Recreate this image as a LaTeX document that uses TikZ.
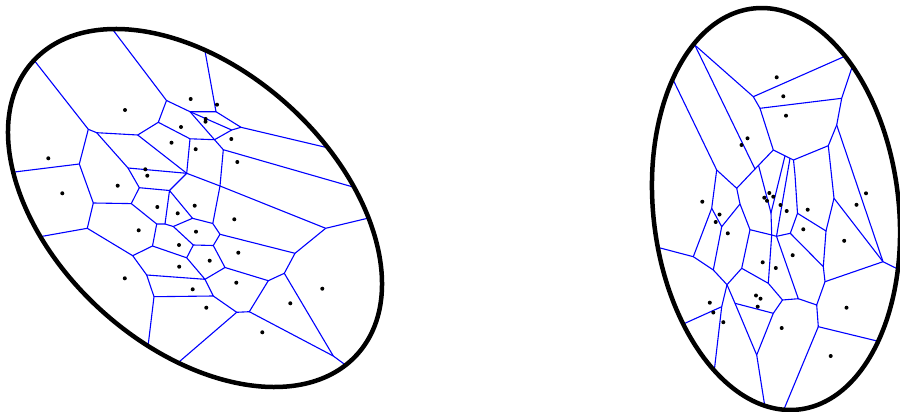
\documentclass[tikz,border=0pt]{standalone}
\usepackage{tikz}
\usepackage{xcolor}
\definecolor{cellc}{HTML}{0000FF}
\tikzset{
  wall/.style={draw=black, line width=4.5pt},
  cellline/.style={draw=cellc, line width=1.1pt, line join=round},
  site/.style={fill=black},
}

\begin{document}
\begin{tikzpicture}[x=1pt,y=-1pt]
\useasboundingbox (0,0) rectangle (900,412);
\clip (0,0) rectangle (900,412);
% left cells
\begin{scope}
\clip[rotate around={-42.05:(195,208)}] (195,208) ellipse [x radius=218.5pt, y radius=138.8pt];
\draw[cellline] (110,26) -- (166.5,100.5) -- (190,111.7) -- (216,111.7) -- (203,40);
\draw[cellline] (30,55) -- (88.3,129.3) -- (96.7,132.7) -- (137.7,135) -- (158.3,122.3) -- (166.5,100.5);
\draw[cellline] (158.3,122.3) -- (190,138.8) -- (214.5,139.7) -- (223.3,149.7) -- (360,189);
\draw[cellline] (190,111.7) -- (231.7,130) -- (241,127.3) -- (335,149.5);
\draw[cellline] (216,111.7) -- (241,127.3);
\draw[cellline] (190,111.7) -- (214.5,139.7) -- (231.7,130);
\draw[cellline] (223.3,149.7) -- (220,186) -- (325.7,228.3) -- (380,215.3);
\draw[cellline] (137.7,135) -- (186.7,173.3) -- (220,186);
\draw[cellline] (190,138.8) -- (186.7,173.3);
\draw[cellline] (96.7,132.7) -- (128,168) -- (186.7,173.3);
\draw[cellline] (128,168) -- (139.3,187.7) -- (169.5,190.5) -- (186.7,173.3);
\draw[cellline] (88.3,129.3) -- (79.3,164) -- (0,173.8);
\draw[cellline] (79.3,164) -- (93.3,203) -- (131.3,203.6) -- (139.3,187.7);
\draw[cellline] (220,186) -- (212.8,223.5) -- (220,234.3) -- (295,253.3) -- (325.7,228.3);
\draw[cellline] (169.5,190.5) -- (192.5,218.3) -- (212.8,223.5);
\draw[cellline] (192.5,218.3) -- (173.3,226.5) -- (165,224) -- (169.5,190.5);
\draw[cellline] (165,224) -- (156.7,224) -- (131.3,203.6);
\draw[cellline] (220,234.3) -- (213.3,245.5) -- (193.3,245) -- (173.3,226.5);
\draw[cellline] (193.3,245) -- (186.7,257.8) -- (152.5,246) -- (156.7,224);
\draw[cellline] (152.5,246) -- (132.7,255.7) -- (87.3,228.3) -- (93.3,203);
\draw[cellline] (87.3,228.3) -- (30,238.5);
\draw[cellline] (132.7,255.7) -- (146.7,275) -- (205,279.3) -- (186.7,257.8);
\draw[cellline] (146.7,275) -- (154,296.7) -- (213.3,296) -- (205,279.3);
\draw[cellline] (205,279.3) -- (225,267.5) -- (213.3,245.5);
\draw[cellline] (225,267.5) -- (268.3,280.7) -- (284.3,273.3) -- (295,253.3);
\draw[cellline] (213.3,296) -- (236.7,312.3) -- (165,374);
\draw[cellline] (236.7,312.3) -- (249.3,311.7) -- (268.3,280.7);
\draw[cellline] (154,296.7) -- (146,363);
\draw[cellline] (284.3,273.3) -- (333.3,356) -- (355,372);
\draw[cellline] (249.3,311.7) -- (333.3,356);
\end{scope}
\draw[wall, rotate around={-42.05:(195,208)}] (195,208) ellipse [x radius=218.5pt, y radius=138.8pt];
% left sites
\fill[site] (125,110) circle (2pt);
\fill[site] (48.3,158.3) circle (2pt);
\fill[site] (62.3,193.3) circle (2pt);
\fill[site] (117.7,185.7) circle (2pt);
\fill[site] (145.3,169.3) circle (2pt);
\fill[site] (147.3,175.7) circle (2pt);
\fill[site] (157.3,207) circle (2pt);
\fill[site] (177.7,213.3) circle (2pt);
\fill[site] (194.7,205.7) circle (2pt);
\fill[site] (190.7,99) circle (2pt);
\fill[site] (181,127) circle (2pt);
\fill[site] (171.5,142.7) circle (2pt);
\fill[site] (195.7,149.2) circle (2pt);
\fill[site] (217,104.7) circle (2pt);
\fill[site] (205.7,119) circle (2pt);
\fill[site] (205.5,121.7) circle (2pt);
\fill[site] (231.3,139) circle (2pt);
\fill[site] (237.3,162) circle (2pt);
\fill[site] (234.3,219.3) circle (2pt);
\fill[site] (138.7,230.3) circle (2pt);
\fill[site] (196,231.7) circle (2pt);
\fill[site] (179,245) circle (2pt);
\fill[site] (238.3,252.7) circle (2pt);
\fill[site] (209.7,260.7) circle (2pt);
\fill[site] (179.2,266.7) circle (2pt);
\fill[site] (124.8,278.3) circle (2pt);
\fill[site] (236.3,282.7) circle (2pt);
\fill[site] (192.7,289.3) circle (2pt);
\fill[site] (206.3,307.7) circle (2pt);
\fill[site] (322.3,288.7) circle (2pt);
\fill[site] (290.3,303.3) circle (2pt);
\fill[site] (262.3,332.3) circle (2pt);
% right cells
\begin{scope}
\clip[rotate around={6.5:(776,209)}] (776,209) ellipse [x radius=122.7pt, y radius=201.8pt];
\draw[cellline] (680,32) -- (753.3,96.7) -- (860,49.6);
\draw[cellline] (753.3,96.7) -- (760,108.3) -- (841.7,98.3) -- (857,52.5);
\draw[cellline] (841.7,98.3) -- (836.7,125) -- (828.3,145.7) -- (793.5,160) -- (773.3,150) -- (760,108.3);
\draw[cellline] (836.7,125) -- (883,261.7) -- (920,280);
\draw[cellline] (828.3,145.7) -- (834,198.3) -- (883,261.7);
\draw[cellline] (773.3,150) -- (755,169) -- (736.7,188.3) -- (716.7,170) -- (665,63);
\draw[cellline] (755,169) -- (688,31);
\draw[cellline] (716.7,170) -- (711.7,208.3) -- (693.3,256.7) -- (645,244);
\draw[cellline] (736.7,188.3) -- (740,204) -- (721.7,226.7) -- (711.7,208.3);
\draw[cellline] (740,204) -- (750,229.7) -- (771.7,235) -- (776.5,236.3) -- (790.3,233.3) -- (797.5,213.3) -- (795,175) -- (793.5,160);
\draw[cellline] (721.7,226.7) -- (713.3,270) -- (693.3,256.7);
\draw[cellline] (713.3,270) -- (727,284.7) -- (741.7,268.3) -- (750,229.7);
\draw[cellline] (741.7,268.3) -- (768.3,283.3) -- (771.7,235);
\draw[cellline] (768.3,283.3) -- (782.5,300) -- (798.3,298.7) -- (776.5,236.3);
\draw[cellline] (790.3,233.3) -- (823.3,266.7) -- (826,231) -- (797.5,213.3);
\draw[cellline] (826,231) -- (834,198.3);
\draw[cellline] (823.3,266.7) -- (825,281.7) -- (883,261.7);
\draw[cellline] (825,281.7) -- (816.7,305) -- (798.3,298.7);
\draw[cellline] (816.7,305) -- (818.3,326.7) -- (910,349);
\draw[cellline] (818.3,326.7) -- (777,426);
\draw[cellline] (782.5,300) -- (773.3,313.3) -- (756.7,355) -- (767,420);
\draw[cellline] (727,284.7) -- (735,303.3) -- (756.7,355);
\draw[cellline] (735,303.3) -- (773.3,313.3);
\draw[cellline] (727,284.7) -- (721.7,306.7) -- (670,330);
\draw[cellline] (721.7,306.7) -- (712,390);
\draw[cellline] (758.5,165.3) -- (771,213) -- (771.7,235);
\draw[cellline] (785,155.8) -- (771,213);
\draw[cellline] (790,158.3) -- (776.5,236.3);
\end{scope}
\draw[wall, rotate around={6.5:(776,209)}] (776,209) ellipse [x radius=122.7pt, y radius=201.8pt];
% right sites
\fill[site] (776.7,77.3) circle (2pt);
\fill[site] (783.3,96.3) circle (2pt);
\fill[site] (786,115.7) circle (2pt);
\fill[site] (747.5,138.3) circle (2pt);
\fill[site] (741.5,145) circle (2pt);
\fill[site] (702.3,201.7) circle (2pt);
\fill[site] (719.5,214.5) circle (2pt);
\fill[site] (715.7,222) circle (2pt);
\fill[site] (727.8,233.3) circle (2pt);
\fill[site] (769.3,193) circle (2pt);
\fill[site] (764.3,197.7) circle (2pt);
\fill[site] (767,200.8) circle (2pt);
\fill[site] (773.3,196.7) circle (2pt);
\fill[site] (780.5,205) circle (2pt);
\fill[site] (786.7,211) circle (2pt);
\fill[site] (807.7,209.7) circle (2pt);
\fill[site] (803.3,229.3) circle (2pt);
\fill[site] (866,193.3) circle (2pt);
\fill[site] (856.5,204.8) circle (2pt);
\fill[site] (844.2,240.8) circle (2pt);
\fill[site] (792.7,255.2) circle (2pt);
\fill[site] (762.7,262.3) circle (2pt);
\fill[site] (775.8,268) circle (2pt);
\fill[site] (756,295.5) circle (2pt);
\fill[site] (760.5,298.7) circle (2pt);
\fill[site] (757.7,306.7) circle (2pt);
\fill[site] (709.8,302.7) circle (2pt);
\fill[site] (713.3,312.5) circle (2pt);
\fill[site] (723.3,322.2) circle (2pt);
\fill[site] (781.7,328) circle (2pt);
\fill[site] (846.5,307.7) circle (2pt);
\fill[site] (830.7,356) circle (2pt);
\end{tikzpicture}
\end{document}
